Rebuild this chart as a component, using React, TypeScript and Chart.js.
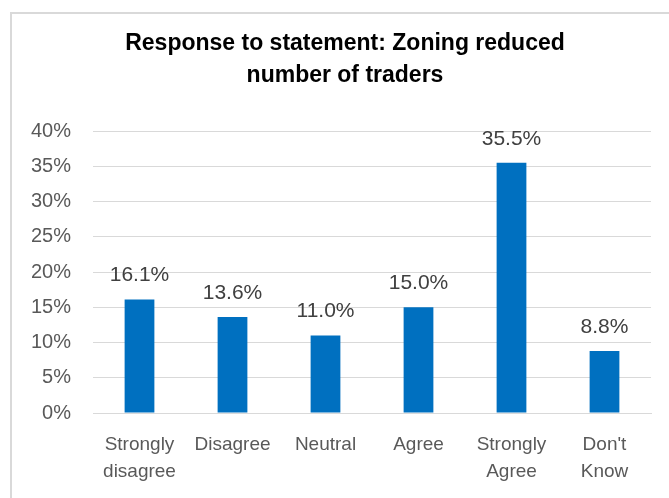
import React, { useEffect, useRef } from "react";
import { Chart, registerables } from "chart.js";

Chart.register(...registerables);

const titleLines = ["Response to statement: Zoning reduced", "number of traders"];
const categories: (string | string[])[] = [
  ["Strongly", "disagree"],
  "Disagree",
  "Neutral",
  "Agree",
  ["Strongly", "Agree"],
  ["Don't", "Know"],
];
const values = [16.1, 13.6, 11.0, 15.0, 35.5, 8.8];
const yMin = 0;
const yMax = 40;
const yStep = 5;

const FONT = "'Liberation Sans', Arial, sans-serif";

const titlePlugin = {
  id: "customTitle",
  afterDraw(chart: any) {
    const ctx = chart.ctx;
    ctx.save();
    ctx.font = `bold 23px ${FONT}`;
    ctx.fillStyle = "#000000";
    ctx.textAlign = "center";
    ctx.textBaseline = "alphabetic";
    titleLines.forEach((line, i) => {
      ctx.fillText(line, 345, 50 + i * 32);
    });
    ctx.restore();
  },
};

const dataLabelPlugin = {
  id: "dataLabels",
  afterDatasetsDraw(chart: any) {
    const ctx = chart.ctx;
    const meta = chart.getDatasetMeta(0);
    ctx.save();
    ctx.font = `21px ${FONT}`;
    ctx.fillStyle = "#404040";
    ctx.textAlign = "center";
    ctx.textBaseline = "middle";
    meta.data.forEach((bar: any, i: number) => {
      const v = chart.data.datasets[0].data[i] as number;
      ctx.fillText(v.toFixed(1) + "%", bar.x, bar.y - 24);
    });
    ctx.restore();
  },
};

export default function App() {
  const ref = useRef<HTMLCanvasElement | null>(null);
  useEffect(() => {
    if (!ref.current) return;
    const chart = new Chart(ref.current, {
      type: "bar",
      data: {
        labels: categories,
        datasets: [
          {
            data: values,
            backgroundColor: "#0070C0",
            borderWidth: 0,
            barPercentage: 0.32,
            categoryPercentage: 1,
          },
        ],
      },
      options: {
        responsive: false,
        animation: false,
        layout: { padding: { left: 0, right: 18, top: 131, bottom: 0 } },
        plugins: {
          legend: { display: false },
          tooltip: { enabled: false },
          title: { display: false },
        },
        scales: {
          x: {
            grid: { display: false, drawTicks: false },
            border: { display: true, color: "#d9d9d9", width: 1 },
            ticks: {
              autoSkip: false,
              maxRotation: 0,
              minRotation: 0,
              padding: 18,
              color: "#595959",
              font: { family: FONT, size: 19, lineHeight: 1.42 },
            },
            afterFit(scale: any) {
              scale.height = 85;
            },
          },
          y: {
            min: yMin,
            max: yMax,
            grid: { color: "#d9d9d9", lineWidth: 1, drawTicks: false },
            border: { display: false },
            ticks: {
              stepSize: yStep,
              padding: 22,
              color: "#595959",
              font: { family: FONT, size: 20 },
              callback: (v: any) => v + "%",
            },
            afterFit(scale: any) {
              scale.width = 93;
            },
          },
        },
      },
      plugins: [dataLabelPlugin, titlePlugin],
    });
    return () => chart.destroy();
  }, []);

  return (
    <div
      style={{
        position: "fixed",
        left: 0,
        top: 0,
        width: 669,
        height: 498,
        background: "#ffffff",
        overflow: "hidden",
      }}
    >
      <div
        style={{
          position: "absolute",
          left: 10,
          top: 12,
          width: 700,
          height: 520,
          border: "2px solid #d9d9d9",
          boxSizing: "border-box",
        }}
      />
      <canvas
        ref={ref}
        width={669}
        height={498}
        style={{ position: "absolute", left: 0, top: 0, width: 669, height: 498 }}
      />
    </div>
  );
}
